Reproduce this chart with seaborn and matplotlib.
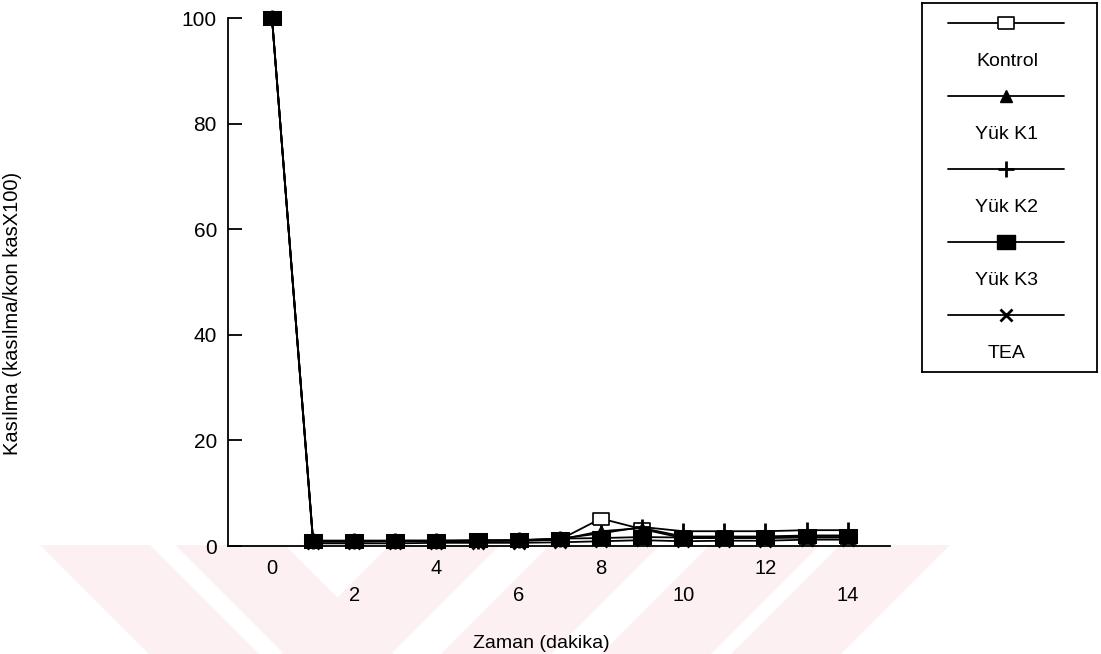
import numpy as np
import pandas as pd
import seaborn as sns
import matplotlib.pyplot as plt
from matplotlib.patches import Polygon
from matplotlib.lines import Line2D

# time points (minutes)
zaman = [0, 1, 2, 3, 4, 5, 6, 7, 8, 9, 10, 11, 12, 13, 14]

kontrol = [100, 1.0, 1.0, 1.0, 1.0, 1.0, 1.0, 1.2, 5.2, 3.2, 1.5, 1.5, 1.5, 1.6, 1.6]
yuk_k1 = [100, 0.8, 0.8, 0.9, 0.9, 1.0, 1.0, 1.2, 2.8, 3.4, 1.8, 1.8, 1.8, 2.0, 2.0]
yuk_k2 = [100, 1.0, 1.0, 1.0, 1.0, 1.0, 1.1, 1.4, 2.4, 3.6, 2.8, 2.8, 2.8, 3.0, 3.0]
yuk_k3 = [100, 0.9, 0.9, 1.0, 1.0, 1.1, 1.1, 1.4, 1.5, 1.7, 1.6, 1.6, 1.7, 1.9, 1.9]
tea = [100, 0.5, 0.5, 0.5, 0.6, 0.6, 0.6, 0.7, 0.9, 1.1, 0.9, 1.0, 1.0, 1.2, 1.2]

seri_adlari = ['Kontrol', 'Yük K1', 'Yük K2', 'Yük K3', 'TEA']
seriler = [kontrol, yuk_k1, yuk_k2, yuk_k3, tea]

x_upper = [0, 4, 8, 12]
x_lower = [2, 6, 10, 14]
y_ticks = [0, 20, 40, 60, 80, 100]

rect = [(-1.3, -1), (1.3, -1), (1.3, 1), (-1.3, 1), (-1.3, -1)]
stiller = {
    'Kontrol': dict(marker=rect, markersize=12, markerfacecolor='white', markeredgewidth=1.2, zorder=3),
    'Yük K1': dict(marker='^', markersize=8, markerfacecolor='black', zorder=4),
    'Yük K2': dict(marker='+', markersize=11, markeredgewidth=2, zorder=4),
    'Yük K3': dict(marker=rect, markersize=12.5, markerfacecolor='black', zorder=5),
    'TEA': dict(marker='x', markersize=8, markeredgewidth=2, zorder=2),
}

sns.set_style('white')
plt.rcParams['font.family'] = ['Liberation Sans', 'DejaVu Sans']
plt.rcParams['text.color'] = 'black'
plt.rcParams['axes.labelcolor'] = 'black'
plt.rcParams['xtick.color'] = 'black'
plt.rcParams['ytick.color'] = 'black'

fig = plt.figure(figsize=(11.01, 6.54), dpi=100)

# faint watermark bands at the bottom
pink = '#fdf0f3'
for x0 in [40, 175]:
    pts = [(x0, 654 - 545), (x0 + 110, 654 - 545), (x0 + 219, 0), (x0 + 109, 0)]
    fig.add_artist(Polygon([(a / 1101, b / 654) for a, b in pts], closed=True,
                           facecolor=pink, edgecolor='none', transform=fig.transFigure, zorder=0))
for x0 in [390, 550, 710, 840]:
    pts = [(x0, 654 - 545), (x0 + 110, 654 - 545), (x0 + 1, 0), (x0 - 109, 0)]
    fig.add_artist(Polygon([(a / 1101, b / 654) for a, b in pts], closed=True,
                           facecolor=pink, edgecolor='none', transform=fig.transFigure, zorder=0))

ax = fig.add_axes([228 / 1101, 1 - 546 / 654, 662 / 1101, 528 / 654])
ax.patch.set_alpha(0)

for ad, deger in zip(seri_adlari, seriler):
    sns.lineplot(x=zaman, y=deger, ax=ax, color='black', linewidth=1.3,
                 markeredgecolor='black', clip_on=False, **stiller[ad])

ax.set_xlim(-1.07, 15.03)
ax.set_ylim(0, 100)
ax.set_xticks(x_upper)
ax.set_xticklabels([str(v) for v in x_upper])
ax.set_xticks(x_lower, minor=True)
ax.set_xticklabels([str(v) for v in x_lower], minor=True)
ax.tick_params(axis='x', which='major', length=0, pad=9, labelsize=14.5)
ax.tick_params(axis='x', which='minor', length=0, pad=29, labelsize=14.5)
ax.set_yticks(y_ticks)
ax.tick_params(axis='y', direction='in', length=10, width=1.3, pad=8, labelsize=15, left=True)

for s in ['top', 'right']:
    ax.spines[s].set_visible(False)
for s in ['left', 'bottom']:
    ax.spines[s].set_color('black')
    ax.spines[s].set_linewidth(1.3)

ax.set_xlabel('Zaman (dakika)', fontsize=14)
ax.xaxis.set_label_coords(0.473, -0.169)
ax.set_ylabel('Kasılma (kasılma/kon kasX100)', fontsize=14.5)
ax.yaxis.set_label_coords(-0.311, 0.44)

# legend box: key line above each label
lax = fig.add_axes([922 / 1101, 1 - 372 / 654, 175 / 1101, 369 / 654])
lax.set_xlim(0, 1)
lax.set_ylim(0, 1)
lax.set_xticks([])
lax.set_yticks([])
for s in lax.spines.values():
    s.set_color('black')
    s.set_linewidth(1.3)
for i, ad in enumerate(seri_adlari):
    yl = 0.947 - i * 0.198
    st = {k: v for k, v in stiller[ad].items() if k != 'zorder'}
    lax.add_line(Line2D([0.15, 0.48, 0.81], [yl, yl, yl], color='black', linewidth=1.3,
                        markevery=[1], markeredgecolor='black', **st))
    lax.text(0.485, yl - 0.106, ad, ha='center', va='center', fontsize=14)

fig.savefig('out.png', dpi=100)
